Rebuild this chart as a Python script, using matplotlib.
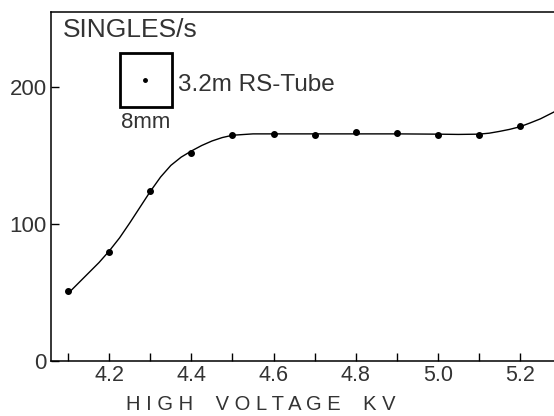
import matplotlib
matplotlib.use("Agg")
import matplotlib.pyplot as plt
from matplotlib.patches import Rectangle

# measured points
voltage = [4.1, 4.2, 4.3, 4.4, 4.5, 4.6, 4.7, 4.8, 4.9, 5.0, 5.1, 5.2]
singles = [51.5, 79.5, 124, 152, 165, 166, 165.5, 167.5, 167, 165.5, 165, 171.5]

# hand-drawn fit curve
curve_v = [4.1, 4.125, 4.15, 4.175, 4.2, 4.225, 4.25, 4.275, 4.3, 4.325, 4.35,
           4.375, 4.4, 4.425, 4.45, 4.475, 4.5, 4.55, 4.6, 4.7, 4.8, 4.9, 5.0,
           5.05, 5.1, 5.125, 5.15, 5.175, 5.2, 5.225, 5.25, 5.283]
curve_s = [49.5, 57, 64.5, 72, 80.5, 90, 101, 112.5, 124, 134.5, 143, 149, 153.5,
           157.5, 160.8, 163.3, 165, 166, 166, 166, 166, 166, 165.8,
           165.6, 165.8, 166.5, 167.8, 169.3, 171.2, 174, 177, 182]

xticks = [4.1, 4.2, 4.3, 4.4, 4.5, 4.6, 4.7, 4.8, 4.9, 5.0, 5.1, 5.2]
xlabels = ["", "4.2", "", "4.4", "", "4.6", "", "4.8", "", "5.0", "", "5.2"]
yticks = [0, 100, 200]

plt.rcParams["font.family"] = ["Liberation Sans", "DejaVu Sans"]
ink = "#333333"

fig = plt.figure(figsize=(5.54, 4.16), dpi=100)
ax = fig.add_axes([0.092, 0.132, 0.908, 0.839])

ax.plot(curve_v, curve_s, color="black", lw=1.0)
ax.plot(voltage, singles, "o", color="black", ms=4)

ax.set_xlim(4.058, 5.283)
ax.set_ylim(0, 255)
ax.spines["right"].set_visible(False)
for s in ["left", "bottom", "top"]:
    ax.spines[s].set_linewidth(1.1)

ax.set_xticks(xticks)
ax.set_xticklabels(xlabels, fontsize=15.5, color=ink)
ax.set_yticks(yticks)
ax.set_yticklabels([str(v) for v in yticks], fontsize=16, color=ink)
ax.tick_params(axis="both", direction="in", length=6, width=1.0)
ax.tick_params(axis="x", pad=3)
ax.tick_params(axis="y", pad=3)
ax.set_xlabel("H I G H    V O L T A G E    K V", fontsize=14.5, color=ink)
ax.xaxis.set_label_coords(0.417, -0.098)

ax.text(0.024, 0.95, "SINGLES/s", transform=ax.transAxes, fontsize=19,
        va="center", ha="left", color=ink)
ax.add_patch(Rectangle((0.137, 0.728), 0.104, 0.155, transform=ax.transAxes,
                       fill=False, lw=2.0, ec="black"))
ax.plot([0.187], [0.805], "o", color="black", ms=2.5, transform=ax.transAxes)
ax.text(0.252, 0.791, "3.2m RS-Tube", transform=ax.transAxes, fontsize=17.5,
        va="center", ha="left", color=ink)
ax.text(0.189, 0.685, "8mm", transform=ax.transAxes, fontsize=16,
        va="center", ha="center", color=ink)

fig.savefig("out.png", dpi=100)
